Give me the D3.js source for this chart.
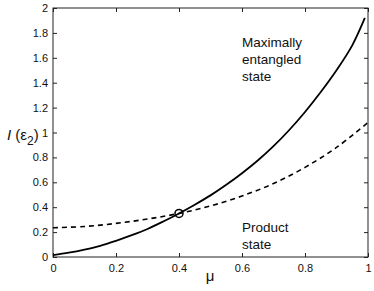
<!DOCTYPE html>
<html><head><meta charset="utf-8">
<script src="https://cdn.jsdelivr.net/npm/d3@7"></script>
<style>body{margin:0;background:#fff}svg{display:block}text{font-family:"Liberation Sans",Arial,sans-serif}</style>
</head><body><svg id="c" width="374" height="291"></svg>
<script>
const muSolid = [0,0.05,0.1,0.15,0.2,0.25,0.3,0.35,0.4,0.45,0.5,0.55,0.6,0.65,0.7,0.75,0.8,0.85,0.9,0.95,0.99];
const entangled = [0.015,0.035,0.06,0.09,0.13,0.175,0.225,0.285,0.35,0.42,0.495,0.58,0.673,0.775,0.89,1.02,1.165,1.325,1.50,1.70,1.92];
const muDashed = [0,0.1,0.2,0.3,0.4,0.5,0.6,0.7,0.8,0.9,1.0];
const product = [0.235,0.245,0.27,0.305,0.35,0.41,0.49,0.59,0.72,0.88,1.08];
const crossing = [0.4,0.35];
const xTicks = [0,0.2,0.4,0.6,0.8,1];
const yTicks = [0,0.2,0.4,0.6,0.8,1,1.2,1.4,1.6,1.8,2];

const svg = d3.select("#c");
const L=53,R=368,T=8,B=257;
const x=d3.scaleLinear().domain([0,1]).range([L,R]);
const y=d3.scaleLinear().domain([0,2]).range([B,T]);
const fmt=d=>String(d);

svg.append("rect").attr("x",L).attr("y",T).attr("width",R-L).attr("height",B-T)
  .attr("fill","none").attr("stroke","#222").attr("stroke-width",1);

const gx=svg.append("g").attr("transform",`translate(0,${B})`)
  .call(d3.axisBottom(x).tickValues(xTicks).tickFormat(fmt).tickSizeInner(-4).tickSizeOuter(0).tickPadding(7));
const gy=svg.append("g").attr("transform",`translate(${L},0)`)
  .call(d3.axisLeft(y).tickValues(yTicks).tickFormat(fmt).tickSizeInner(-4).tickSizeOuter(0).tickPadding(5));
const gt=svg.append("g").attr("transform",`translate(0,${T})`)
  .call(d3.axisTop(x).tickValues(xTicks).tickFormat("").tickSizeInner(-4).tickSizeOuter(0));
const gr=svg.append("g").attr("transform",`translate(${R},0)`)
  .call(d3.axisRight(y).tickValues(yTicks).tickFormat("").tickSizeInner(-4).tickSizeOuter(0));
[gx,gy,gt,gr].forEach(g=>{g.select(".domain").remove();g.selectAll("line").attr("stroke","#222");
  g.selectAll("text").attr("font-size",11).attr("fill","#111").attr("font-family","Liberation Sans, Arial, sans-serif");});

const line=d3.line().x(d=>x(d[0])).y(d=>y(d[1])).curve(d3.curveCatmullRom.alpha(0.5));
svg.append("path").datum(muSolid.map((m,i)=>[m,entangled[i]])).attr("d",line)
  .attr("fill","none").attr("stroke","#000").attr("stroke-width",1.8);
svg.append("path").datum(muDashed.map((m,i)=>[m,product[i]])).attr("d",line)
  .attr("fill","none").attr("stroke","#000").attr("stroke-width",1.6).attr("stroke-dasharray","5,4");
svg.append("circle").attr("cx",x(crossing[0])).attr("cy",y(crossing[1])).attr("r",4)
  .attr("fill","none").attr("stroke","#000").attr("stroke-width",1.5);

const lab=(t,xx,yy)=>svg.append("text").attr("x",xx).attr("y",yy).attr("font-size",13.5).attr("fill","#111").text(t);
lab("Maximally",242,47);lab("entangled",242,64);lab("state",242,81);
lab("Product",242,232);lab("state",242,249);

svg.append("text").attr("x",210).attr("y",281).attr("text-anchor","middle").attr("font-size",15).attr("fill","#111").text("μ");
const yl=svg.append("text").attr("x",7).attr("y",140).attr("font-size",15).attr("fill","#111");
yl.append("tspan").attr("font-style","italic").text("I");
yl.append("tspan").text(" (ε");
yl.append("tspan").attr("font-size",12).attr("dy",5).text("2");
yl.append("tspan").attr("dy",-5).text(")");
</script></body></html>
